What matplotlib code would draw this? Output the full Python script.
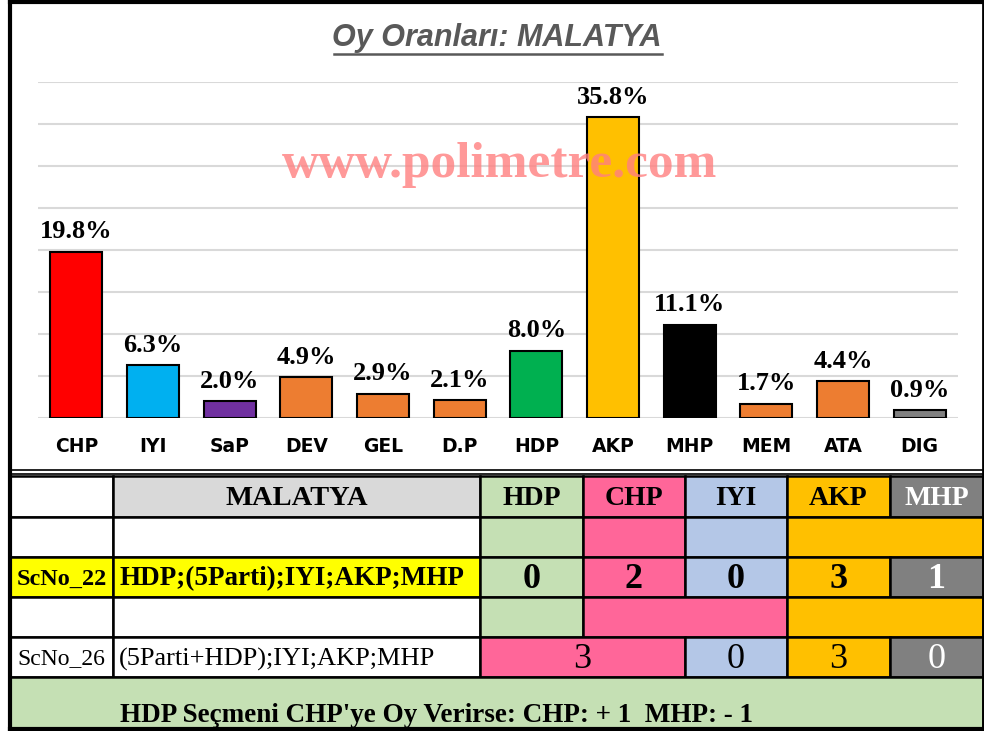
import numpy as np
import matplotlib
matplotlib.use("Agg")
from matplotlib import pyplot as plt
from matplotlib.patches import Rectangle

# chart data
parties = ["CHP", "IYI", "SaP", "DEV", "GEL", "D.P", "HDP", "AKP", "MHP", "MEM", "ATA", "DIG"]
shares = [19.8, 6.3, 2.0, 4.9, 2.9, 2.1, 8.0, 35.8, 11.1, 1.7, 4.4, 0.9]
bar_colors = ["#FF0000", "#00B0F0", "#7030A0", "#ED7D31", "#ED7D31", "#ED7D31",
              "#00B050", "#FFC000", "#000000", "#ED7D31", "#ED7D31", "#808080"]
title = "Oy Oranları: MALATYA"
watermark = "www.polimetre.com"

# table data
city = "MALATYA"
tbl_cols = ["HDP", "CHP", "IYI", "AKP", "MHP"]
tbl_colors = ["#C5E0B4", "#FF6699", "#B4C7E7", "#FFC000", "#808080"]
row2_groups = [[0], [1], [2], [3, 4]]
row2_color = [0, 1, 2, 3]
sc22_label = "ScNo_22"
sc22_order = "HDP;(5Parti);IYI;AKP;MHP"
sc22_seats = [0, 2, 0, 3, 1]
row4_groups = [[0], [1, 2], [3, 4]]
row4_color = [0, 1, 3]
sc26_label = "ScNo_26"
sc26_order = "(5Parti+HDP);IYI;AKP;MHP"
sc26_groups = [[0, 1], [2], [3], [4]]
sc26_color = [1, 2, 3, 4]
sc26_seats = [3, 0, 3, 0]
footer = "HDP Seçmeni CHP'ye Oy Verirse: CHP: + 1  MHP: - 1"

W, H = 984, 731
fig = plt.figure(figsize=(W / 100, H / 100), dpi=100)
fig.patch.set_facecolor("white")

# background/overlay axes in pixel coords
bg = fig.add_axes([0, 0, 1, 1])
bg.set_xlim(0, W)
bg.set_ylim(H, 0)
bg.axis("off")

# bar chart
ax = fig.add_axes([38 / W, (H - 418) / H, 920 / W, 336 / H])
ax.set_facecolor("none")
x = np.arange(len(parties))
ax.bar(x, shares, width=0.68, color=bar_colors, edgecolor="black", linewidth=1.5, zorder=3)
ax.set_xlim(-0.5, len(parties) - 0.5)
ax.set_ylim(0, 40)
ax.set_yticks(np.arange(0, 41, 5))
ax.yaxis.grid(True, color="#D9D9D9", linewidth=1.5)
ax.tick_params(axis="y", left=False, labelleft=False)
ax.tick_params(axis="x", length=0, pad=14)
ax.set_xticks(x)
ax.set_xticklabels(parties, fontsize=13.5, fontweight="bold", family="DejaVu Sans")
for s in ax.spines.values():
    s.set_visible(False)
for xi, v in zip(x, shares):
    ax.annotate(f"{v:.1f}%", (xi, v), xytext=(0, 6), textcoords="offset points",
                ha="center", va="bottom", fontsize=19, fontweight="bold",
                family="Liberation Serif", zorder=4)

# watermark, drawn above the bars
fig.text(500 / W, 1 - 165 / H, watermark, ha="center", va="center", fontsize=37,
         fontweight="bold", family="Liberation Serif", color="#FF8080", alpha=0.8,
         zorder=10)

# title with underline
t = bg.text(497, 38, title, ha="center", va="center", fontsize=22, fontweight="bold",
            style="italic", family="Liberation Sans", color="#595959")
fig.canvas.draw()
bb = t.get_window_extent(fig.canvas.get_renderer())
bg.plot([bb.x0 + 2, bb.x1], [H - bb.y0 + 1, H - bb.y0 + 1], color="#595959", lw=1.8)

# frames
bg.plot([10, 10], [0, H], color="black", lw=3, solid_capstyle="butt")
bg.plot([10, 983], [2, 2], color="black", lw=3)
bg.plot([983, 983], [0, H], color="black", lw=2)
bg.plot([10, 983], [470, 470], color="black", lw=1.2)
bg.plot([10, 983], [474, 474], color="black", lw=1.2)
bg.plot([10, 983], [729, 729], color="black", lw=3)

# table geometry
col_x = [10, 113, 480, 583, 685, 787, 890, 983]
row_y = [476, 517, 557, 597, 637, 677, 728]


def cell(c0, c1, r, color, text="", size=18, weight="bold", tcolor="black", ha="center"):
    x0, x1 = col_x[c0], col_x[c1 + 1]
    y0, y1 = row_y[r], row_y[r + 1]
    bg.add_patch(Rectangle((x0, y0), x1 - x0, y1 - y0, facecolor=color,
                           edgecolor="black", linewidth=1.8))
    if text != "":
        tx = (x0 + x1) / 2 if ha == "center" else x0 + 6
        bg.text(tx, (y0 + y1) / 2 + 2, text, ha=ha, va="center", fontsize=size,
                fontweight=weight, family="Liberation Serif", color=tcolor)


# header row
cell(0, 0, 0, "white")
cell(1, 1, 0, "#D9D9D9", city, size=20.5)
for i, name in enumerate(tbl_cols):
    cell(i + 2, i + 2, 0, tbl_colors[i], name, size=20,
         tcolor="white" if tbl_colors[i] == "#808080" else "black")

# row 2
cell(0, 0, 1, "white")
cell(1, 1, 1, "white")
for g, ci in zip(row2_groups, row2_color):
    cell(g[0] + 2, g[-1] + 2, 1, tbl_colors[ci])

# ScNo_22
cell(0, 0, 2, "#FFFF00", sc22_label, size=17.5)
cell(1, 1, 2, "#FFFF00", sc22_order, size=19.5, ha="left")
for i, v in enumerate(sc22_seats):
    cell(i + 2, i + 2, 2, tbl_colors[i], str(v), size=26,
         tcolor="white" if tbl_colors[i] == "#808080" else "black")

# row 4
cell(0, 0, 3, "white")
cell(1, 1, 3, "white")
for g, ci in zip(row4_groups, row4_color):
    cell(g[0] + 2, g[-1] + 2, 3, tbl_colors[ci])

# ScNo_26
cell(0, 0, 4, "white", sc26_label, size=17, weight="normal")
cell(1, 1, 4, "white", sc26_order, size=19, weight="normal", ha="left")
for g, ci, v in zip(sc26_groups, sc26_color, sc26_seats):
    cell(g[0] + 2, g[-1] + 2, 4, tbl_colors[ci], str(v), size=26, weight="normal",
         tcolor="white" if tbl_colors[ci] == "#808080" else "black")

# footer
bg.add_patch(Rectangle((10, row_y[5]), 973, row_y[6] - row_y[5], facecolor="#C5E0B4",
                       edgecolor="black", linewidth=1.8))
bg.text(120, 715, footer, ha="left", va="center", fontsize=19.5, fontweight="bold",
        family="Liberation Serif")

fig.savefig("out.png", dpi=100)
